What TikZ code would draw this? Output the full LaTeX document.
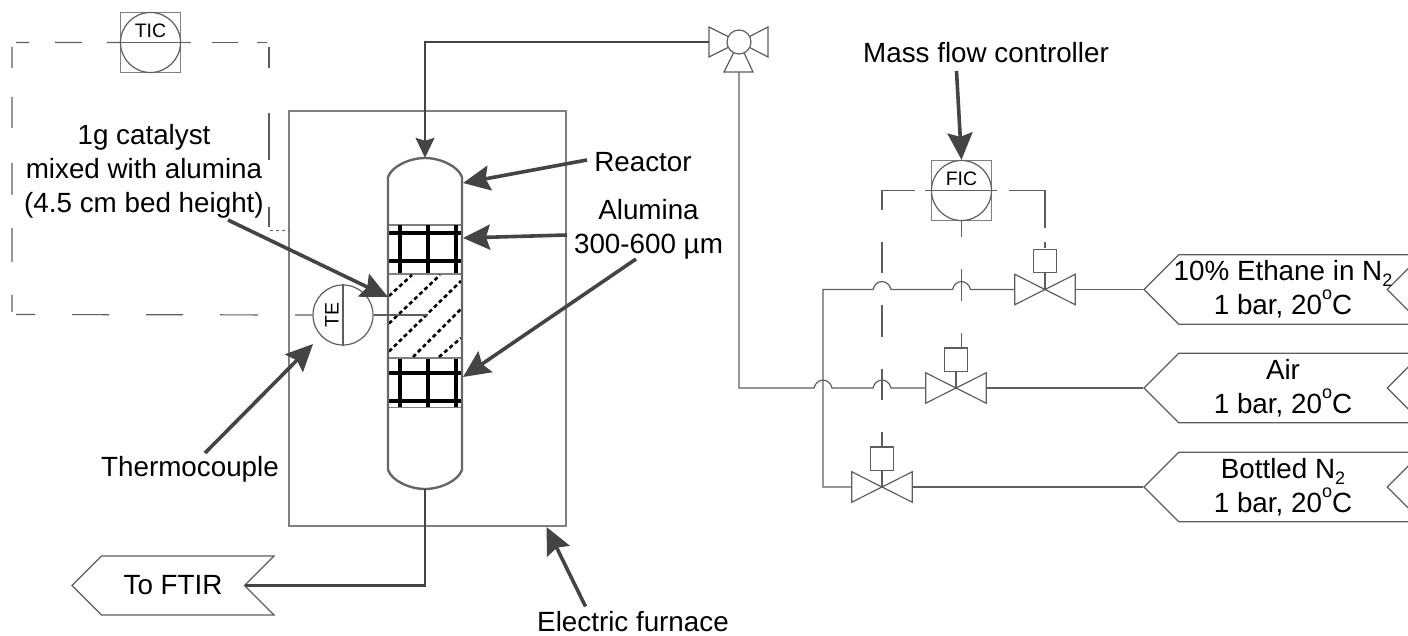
\documentclass[tikz,border=0pt]{standalone}
\usepackage{fontspec}
\setmainfont{Liberation Sans}
\usepackage{xcolor}
\usetikzlibrary{positioning,arrows.meta,shapes.symbols}
\definecolor{linegray}{HTML}{5E5E5E}
\definecolor{wallgray}{HTML}{666666}
\definecolor{boxgray}{HTML}{808080}
\definecolor{arrowgray}{HTML}{444444}
\newcommand{\lowtxt}[1]{\raisebox{-0.22em}{\fontsize{18}{18}\selectfont #1}}
\newcommand{\hightxt}[1]{\raisebox{0.55em}{\fontsize{18}{18}\selectfont #1}}

\begin{document}
\begin{tikzpicture}[
  x=1pt, y=-1pt,
  font=\fontsize{27.8}{34}\selectfont,
  pipe/.style={draw=linegray, line width=1.2pt},
  thickpipe/.style={draw=arrowgray, line width=2.6pt},
  ctrl/.style={draw=linegray, line width=1.2pt},
  wall/.style={draw=wallgray, line width=2.4pt},
  band/.style={draw=boxgray, line width=1.3pt},
  grid/.style={draw=black, line width=3.2pt},
  bed/.style={draw=black, line width=2.6pt, dash pattern=on 4pt off 3pt},
  arr/.style={-{Stealth[length=27pt, width=25pt, inset=4pt]}, draw=arrowgray, line width=3.6pt},
  inletarr/.style={-{Stealth[length=20pt, width=19pt, inset=3pt]}, draw=arrowgray, line width=1.2pt},
  instr/.style={circle, draw=linegray, fill=white, line width=1.2pt, minimum size=60pt, inner sep=0pt},
  framebox/.style={rectangle, draw=boxgray, line width=1.3pt, minimum size=60pt, inner sep=0pt},
  tag/.style={signal, signal from=east, signal to=west, signal pointer angle=90, draw=linegray, line width=1.2pt, fill=white, inner sep=0pt, align=center},
  supply/.style={tag, inner xsep=-10pt, minimum width=278pt, minimum height=69.5pt},
  valvebox/.style={rectangle, minimum width=60pt, minimum height=30pt, inner sep=0pt},
  actuator/.style={rectangle, draw=linegray, line width=1.2pt, fill=white, minimum size=23.5pt, inner sep=0pt},
  tagtxt/.style={font=\fontsize{19.5}{22}\selectfont, inner sep=0pt},
]
\useasboundingbox (0,0) rectangle (1408,636);

\node[rectangle, draw=boxgray, line width=1.5pt, minimum width=277pt, minimum height=415pt, inner sep=0pt] (furnace) at (427.5,318.5) {};

% reactor
\node[rectangle, minimum width=74pt, minimum height=331pt, inner sep=0pt] (reactor) at (425,323.5) {};
\draw[band] (388,225) -- (462,225);
\draw[band] (388,274) -- (462,274);
\draw[band] (388,358) -- (462,358);
\draw[band] (388,407.5) -- (462,407.5);
\foreach \gx in {400,428,456} {
  \draw[grid] (\gx,225.5) -- (\gx,273.5);
  \draw[grid] (\gx,358.5) -- (\gx,407);
}
\foreach \gy in {233,261,373,401} {
  \draw[grid] (388,\gy) -- (462,\gy);
}
\draw[bed] (389,296) -- (412,275);
\draw[bed] (389,323.5) -- (440,275);
\draw[bed] (389,351.5) -- (461,281);
\draw[bed] (413,357) -- (461,309);
\draw[bed] (439,357) -- (461,338);
\draw[wall] (388,470) -- (388,177) .. controls (392,166) and (410,158) .. (425,158) .. controls (440,158) and (458,166) .. (462,177) -- (462,470) .. controls (458,481) and (440,489) .. (425,489) .. controls (410,489) and (392,481) .. (388,470);

% temperature loop
\node[instr] (te) at (343,315) {};
\coordinate (tewest) at (te.west);
\coordinate (furnacein) at (furnace.west |- 0,230.5);
\node[framebox] (tic) at (150.5,42.5) {};
\draw[ctrl, dash pattern=on 43.5pt off 25pt on 27pt off 26pt on 13pt off 8.5pt on 21pt off 29pt on 31pt off 35pt on 32pt off 33pt on 34pt off 33pt on 17pt off 6.5pt on 19pt off 37pt on 37pt off 37pt on 37pt off 37pt on 38pt off 37pt on 20pt] (tic.center) -- (12,42.5) -- (12,314.5) -- (tewest);
\draw[ctrl, dash pattern=on 40.5pt off 21pt on 26pt off 19pt on 10pt off 6.5pt on 21pt off 45pt on 47pt off 47pt on 20pt off 200pt] (tic.center) -- (269,42.5) -- (269,230.5);
\draw[draw=linegray, line width=1pt, dash pattern=on 3pt off 3pt] (270,230.5) -- (furnacein);
\node[instr] (ticcircle) at (tic.center) {};
\draw[ctrl] (ticcircle.west) -- (ticcircle.east);
\node[tagtxt] (tictxt) at (150.5,31) {TIC};

\draw[pipe] (te.east) -- (428,315);
\draw[pipe] (te.north) -- (te.south);
\node[tagtxt, rotate=90] (tetxt) at (332,315) {TE};

% outlet and selector valve
\node[tag, minimum width=202pt, minimum height=59pt] (ftir) at (173,585.5) {To FTIR};
\draw[thickpipe] (reactor.south) |- (ftir.east);

\node[circle, minimum size=24pt, inner sep=0pt] (selector) at (739,42) {};
\draw[pipe] (selector.center) -- (709,27) -- (709,57) -- cycle;
\draw[pipe] (selector.center) -- (768,27) -- (768,57) -- cycle;
\draw[pipe] (selector.center) -- (724,72) -- (753,72) -- cycle;
\node[circle, draw=linegray, fill=white, line width=1.2pt, minimum size=24pt, inner sep=0pt] (selectorcircle) at (selector.center) {};
\coordinate (selectorin) at (709,42);
\coordinate (selectorout) at (739,72);
\draw[inletarr] (selectorin) -- (425,42) -- (reactor.north);

% gas feeds
\node[supply] (ethane) at (1283,289.5) {10\% Ethane in N\lowtxt{2}\\1 bar, 20\hightxt{o}C};
\node[supply] (air) at (1283,388) {Air\\1 bar, 20\hightxt{o}C};
\node[supply] (nitrogen) at (1283,487) {Bottled N\lowtxt{2}\\1 bar, 20\hightxt{o}C};

\foreach \vname/\vx/\vy in {vethane/1045/289.5,vair/956/388,vnitrogen/882/487} {
  \node[valvebox] (\vname) at (\vx,\vy) {};
  \draw[pipe] (\vname.north west) -- (\vname.south east) -- (\vname.north east) -- (\vname.south west) -- cycle;
  \node[actuator, above=16pt of \vname.center] (act\vname) {};
  \draw[pipe] (\vname.center) -- (act\vname);
}

\draw[pipe] (vethane.east) -- (ethane.west);
\draw[pipe] (vair.east) -- (air.west);
\draw[pipe] (vnitrogen.east) -- (nitrogen.west);

\draw[pipe] (vethane.west) -- (970.5,289.5) .. controls (968,279) and (955,279) .. (952.5,289.5) -- (891,289.5) .. controls (888.5,279) and (875.5,279) .. (873,289.5) -- (823,289.5) -- (823,487) -- (vnitrogen.west);
\draw[pipe] (selectorout) -- (739,388) -- (814,388) .. controls (816.5,377.5) and (829.5,377.5) .. (832,388) -- (873,388) .. controls (875.5,377.5) and (888.5,377.5) .. (891,388) -- (vair.west);

% flow control loop
\node[framebox] (fic) at (961.5,190.5) {};
\draw[ctrl, dash pattern=on 36.5pt off 10pt on 52.3pt off 32pt on 31pt off 32pt on 32pt off 32pt on 31pt off 32pt on 16pt] (fic.center) -- (882,190.5) -- (actvnitrogen.north);
\draw[ctrl, dash pattern=on 35.5pt off 12pt on 74pt off 14pt on 6pt] (fic.center) -- (1045,190.5) -- (actvethane.north);
\draw[ctrl, dash pattern=on 16pt off 32pt on 32pt off 32pt on 16pt] (fic.south) -- (961.5,348);
\node[instr] (ficcircle) at (fic.center) {};
\draw[ctrl] (ficcircle.west) -- (ficcircle.east);
\node[tagtxt] (fictxt) at (961.5,179) {FIC};

% labels
\node[align=center, inner sep=0pt] (lblcatalyst) at (144,171) {1g catalyst\\mixed with alumina\\(4.5 cm bed height)};
\node[inner sep=0pt] (lblreactor) at (643,162) {Reactor};
\node[align=center, inner sep=0pt] (lblalumina) at (648.5,229) {Alumina\\300-600 µm};
\node[inner sep=0pt] (lblthermo) at (190,469) {Thermocouple};
\node[inner sep=0pt] (lblfurnace) at (633,622) {Electric furnace};
\node[inner sep=0pt] (lblmfc) at (986,53) {Mass flow controller};

\coordinate (startreactor) at (587,160);
\coordinate (startaluminaup) at (567,235);
\coordinate (startaluminalow) at (636,259);
\coordinate (startcatalyst) at (228,220);
\coordinate (startthermo) at (205,453);
\coordinate (startfurnace) at (585.5,606.5);
\coordinate (startmfc) at (956.5,71);

\draw[arr] (startreactor) -- (463,183);
\draw[arr] (startaluminaup) -- (463,238);
\draw[arr] (startaluminalow) -- (463,377);
\draw[arr] (startcatalyst) -- (388,297);
\draw[arr] (startthermo) -- (313,344);
\draw[arr] (startfurnace) -- (546.5,527);
\draw[arr] (startmfc) -- (fic.north);
\end{tikzpicture}
\end{document}
